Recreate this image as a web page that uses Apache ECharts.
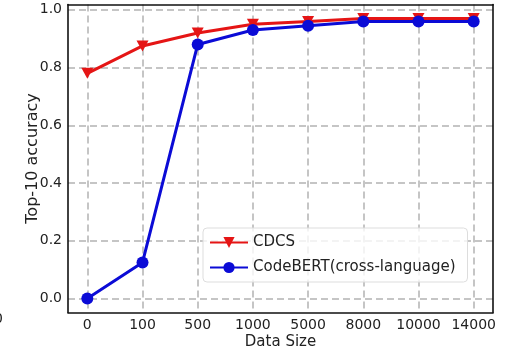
<!DOCTYPE html>
<html><head><meta charset="utf-8">
<script src="https://cdn.jsdelivr.net/npm/echarts@6/dist/echarts.min.js"></script>
<style>html,body{margin:0;padding:0;background:#fff}#c{width:509px;height:354px}</style>
</head><body><div id="c"></div>
<script>
const categories = ['0','100','500','1000','5000','8000','10000','14000'];
const cdcs = [0.78, 0.875, 0.92, 0.95, 0.96, 0.97, 0.97, 0.97];
const codebert = [0.0, 0.125, 0.88, 0.93, 0.945, 0.96, 0.96, 0.96];
const yTicks = [0, 0.2, 0.4, 0.6, 0.8, 1.0];
const xIdx = categories.map((c, i) => i);

const FONT = 'DejaVu Sans';
const dash = {color:'#b3b3b3', width:1.5, type:[7,4]};
const frame = {show:true, onZero:false, lineStyle:{color:'#111', width:1.6}};
const chart = echarts.init(document.getElementById('c'), null, {renderer:'canvas'});
chart.setOption({
  animation:false,
  textStyle:{fontFamily:FONT},
  grid:{left:68, right:16, top:4.5, bottom:41.5, outerBoundsMode:'none', containLabel:false},
  xAxis:[
    {type:'value', min:-0.35, max:categories.length - 1 + 0.35, position:'bottom',
     axisLine:frame, axisTick:{show:false, customValues:xIdx},
     axisLabel:{color:'#222', fontSize:14, margin:6, fontFamily:FONT, customValues:xIdx,
                formatter:v=>categories[Math.round(v)]},
     splitLine:{show:true, lineStyle:dash},
     name:'Data Size', nameLocation:'middle', nameGap:22, nameMoveOverlap:false,
     nameTextStyle:{color:'#222', fontSize:15, fontFamily:FONT}},
    {type:'value', min:-0.35, max:categories.length - 1 + 0.35, position:'top',
     axisLine:frame, axisTick:{show:false}, axisLabel:{show:false}, splitLine:{show:false}}
  ],
  yAxis:[
    {type:'value', min:-0.0485, max:1.0185, position:'left',
     axisLine:frame, axisTick:{show:false, customValues:yTicks},
     axisLabel:{color:'#222', fontSize:14, margin:6, fontFamily:FONT, customValues:yTicks,
                formatter:v=>v.toFixed(1)},
     splitLine:{show:true, lineStyle:dash},
     name:'Top-10 accuracy', nameLocation:'middle', nameGap:27, nameRotate:90, nameMoveOverlap:false,
     nameTextStyle:{color:'#222', fontSize:16, fontFamily:FONT}},
    {type:'value', min:-0.0485, max:1.0185, position:'right',
     axisLine:frame, axisTick:{show:false}, axisLabel:{show:false}, splitLine:{show:false}}
  ],
  legend:{
    left:203, top:228, orient:'vertical', itemWidth:38, itemHeight:14, itemGap:10,
    padding:[7,12,7,6], borderColor:'#dddddd', borderWidth:1, borderRadius:4,
    backgroundColor:'rgba(255,255,255,0.8)',
    textStyle:{color:'#222', fontSize:15, fontFamily:FONT},
    data:['CDCS','CodeBERT(cross-language)']
  },
  graphic:[{type:'text', left:-6, top:312, style:{text:'0', fontSize:14, fill:'#222', fontFamily:FONT}}],
  series:[
    {name:'CDCS', type:'line', data:cdcs.map((v,i)=>[xIdx[i], v]),
     symbol:'path://M0,0 L10,0 L5,9 Z', symbolSize:[12,11],
     itemStyle:{color:'#e51515'}, lineStyle:{color:'#e51515', width:3}, z:3},
    {name:'CodeBERT(cross-language)', type:'line', data:codebert.map((v,i)=>[xIdx[i], v]),
     symbol:'circle', symbolSize:12,
     itemStyle:{color:'#0b0bd6'}, lineStyle:{color:'#0b0bd6', width:3}, z:4}
  ]
});
</script></body></html>
